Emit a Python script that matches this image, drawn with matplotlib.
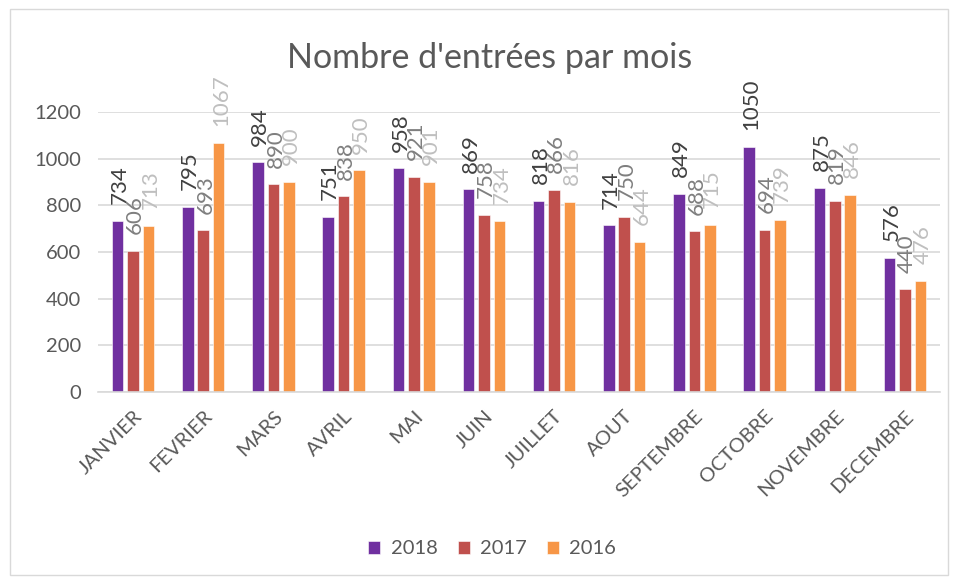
import matplotlib.pyplot as plt
import numpy as np
from matplotlib.patches import Rectangle

plt.rcParams["font.family"] = ["Lato", "DejaVu Sans"]

months = ["JANVIER", "FEVRIER", "MARS", "AVRIL", "MAI", "JUIN", "JUILLET",
          "AOUT", "SEPTEMBRE", "OCTOBRE", "NOVEMBRE", "DECEMBRE"]
v2018 = [734, 795, 984, 751, 958, 869, 818, 714, 849, 1050, 875, 576]
v2017 = [606, 693, 890, 838, 921, 758, 866, 750, 688, 694, 819, 440]
v2016 = [713, 1067, 900, 950, 901, 734, 816, 644, 715, 739, 846, 476]

series = [
    ("2018", v2018, "#7030A0", "#404040"),
    ("2017", v2017, "#C0504D", "#7F7F7F"),
    ("2016", v2016, "#F79646", "#BFBFBF"),
]

fig = plt.figure(figsize=(9.57, 5.81), dpi=100)
ax = fig.add_axes([98 / 957, 1 - 392 / 581, 842 / 957, 280 / 581])

# light frame around the whole chart
fig.patches.append(Rectangle((10 / 957, 6 / 581), 938 / 957, 566 / 581,
                             transform=fig.transFigure, fill=False,
                             edgecolor="#D9D9D9", linewidth=1))

x = np.arange(len(months))
width = 0.165
step = 0.22

for i, (name, vals, color, lab_color) in enumerate(series):
    pos = x + (i - 1) * step
    bars = ax.bar(pos, vals, width, color=color, label=name,
                  edgecolor="white", linewidth=0.4)
    for b, v in zip(bars, vals):
        ax.annotate(str(v), (b.get_x() + b.get_width() / 2, v),
                    xytext=(1.5, 12), textcoords="offset points",
                    rotation=90, ha="center", va="bottom",
                    fontsize=16, color=lab_color, annotation_clip=False)

ax.set_xlim(-0.5, 11.5)
ax.set_ylim(0, 1200)
ax.set_yticks(range(0, 1201, 200))
ax.set_xticks(x)
ax.set_xticklabels(months, rotation=45, ha="right", rotation_mode="anchor",
                   fontsize=14.5, color="#595959")
ax.tick_params(axis="y", labelsize=14.5, labelcolor="#595959", length=0, pad=12)
ax.tick_params(axis="x", length=0, pad=11)

ax.grid(axis="y", color="#D9D9D9", linewidth=1.2)
ax.set_axisbelow(True)
for s in ["top", "right", "left"]:
    ax.spines[s].set_visible(False)
ax.spines["bottom"].set_color("#D9D9D9")
ax.spines["bottom"].set_linewidth(1.2)

fig.text(490 / 957, 1 - 58 / 581, "Nombre d'entrées par mois",
         ha="center", va="center", fontsize=24.5, color="#595959")

fig.legend(loc="center", bbox_to_anchor=(492 / 957, 1 - 549 / 581),
           ncol=3, frameon=False, fontsize=14.5, handlelength=0.6,
           handleheight=0.6, columnspacing=1.0, handletextpad=0.5,
           labelcolor="#595959")

fig.savefig("out.png", dpi=100)
